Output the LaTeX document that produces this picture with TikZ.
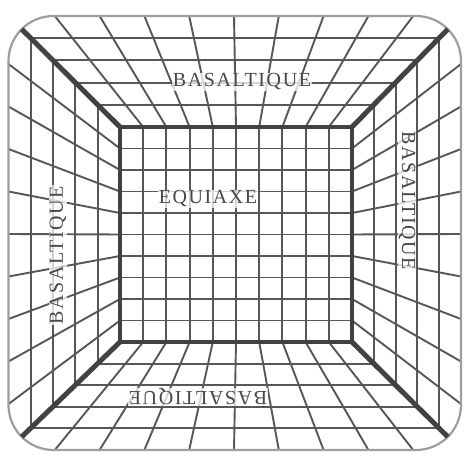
\documentclass[tikz,border=0pt]{standalone}
\usepackage{fontspec}
\newfontfamily\lblfont[LetterSpace=8]{Liberation Serif}
\begin{document}
\begin{tikzpicture}[x=1pt,y=-1pt,
  gridline/.style={line width=1.9pt, draw=black!66},
  outline/.style={line width=2.2pt, draw=black!38, rounded corners=45pt},
  diag/.style={line width=5pt, draw=black!74},
  innerbox/.style={line width=3.6pt, draw=black!74},
  lbl/.style={font=\lblfont\fontsize{20}{20}\selectfont, text=black!72, fill=white, fill opacity=0.75, text opacity=1, inner sep=1pt}]
\useasboundingbox (0,0) rectangle (472,454);
\fill[white] (0,0) rectangle (472,454);
\def\iL{120}\def\iR{352}\def\iT{127}\def\iB{342}
\def\oL{8.5}\def\oR{461}\def\oT{16}\def\oB{450}
% rings
\foreach \k in {1,...,4}{
  \pgfmathsetmacro\l{\iL+(\oL-\iL)*\k/5}
  \pgfmathsetmacro\r{\iR+(\oR-\iR)*\k/5}
  \pgfmathsetmacro\t{\iT+(\oT-\iT)*\k/5}
  \pgfmathsetmacro\b{\iB+(\oB-\iB)*\k/5}
  \draw[gridline] (\l,\t) rectangle (\r,\b);
}
% vertical grid and top/bottom fan lines
\foreach \i in {1,...,9}{
  \pgfmathsetmacro\xi{\iL+(\iR-\iL)*\i/10}
  \pgfmathsetmacro\xo{234+44.8*(\i-5)}
  \draw[gridline] (\xi,\iT) -- (\xi,\iB);
  \draw[gridline] (\xi,\iT) -- (\xo,\oT);
  \draw[gridline] (\xi,\iB) -- (\xo,\oB);
}
% horizontal grid and left/right fan lines
\foreach \j in {1,...,9}{
  \pgfmathsetmacro\yi{\iT+(\iB-\iT)*\j/10}
  \pgfmathsetmacro\yo{234+42.5*(\j-5)}
  \draw[gridline] (\iL,\yi) -- (\iR,\yi);
  \draw[gridline] (\iL,\yi) -- (\oL,\yo);
  \draw[gridline] (\iR,\yi) -- (\oR,\yo);
}
% outer boundary
\draw[outline] (\oL,\oT) rectangle (\oR,\oB);
% diagonals
\coordinate (itl) at (\iL,\iT);
\coordinate (itr) at (\iR,\iT);
\coordinate (ibl) at (\iL,\iB);
\coordinate (ibr) at (\iR,\iB);
\coordinate (otl) at (21.7,29.2);
\coordinate (otr) at (447.8,29.2);
\coordinate (obl) at (21.7,436.8);
\coordinate (obr) at (447.8,436.8);
\draw[diag] (itl) -- (otl);
\draw[diag] (itr) -- (otr);
\draw[diag] (ibl) -- (obl);
\draw[diag] (ibr) -- (obr);
\draw[innerbox] (itl) rectangle (ibr);
% labels
\node[lbl] (top) at (242,82) {BASALTIQUE};
\node[lbl] (eq) at (208,199) {EQUIAXE};
\node[lbl, rotate=90] (left) at (58,255) {BASALTIQUE};
\node[lbl, rotate=-90] (right) at (407,201) {BASALTIQUE};
\node[lbl, rotate=180] (bottom) at (198,397) {BASALTIQUE};
\end{tikzpicture}
\end{document}
